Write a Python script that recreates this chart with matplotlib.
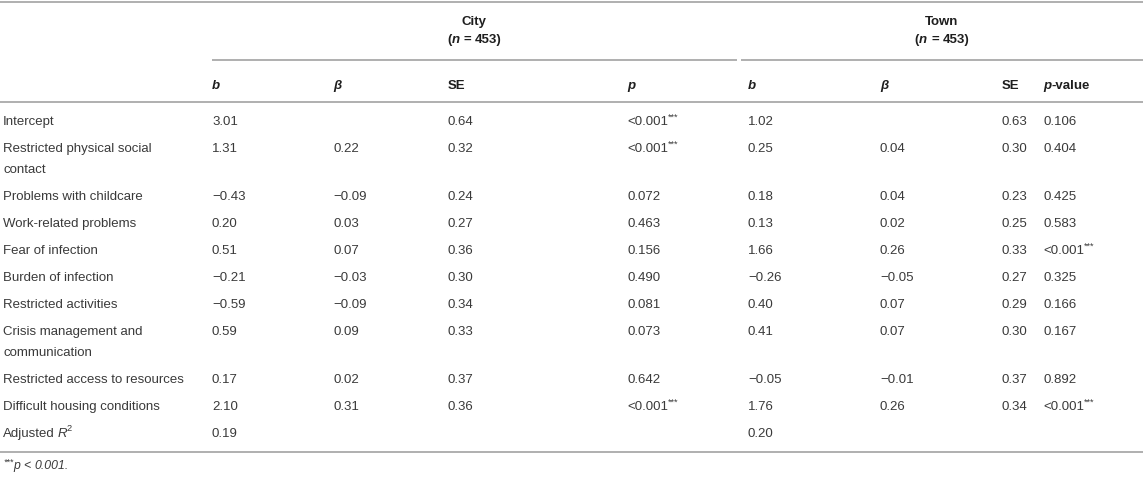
import matplotlib
matplotlib.use("Agg")
import matplotlib.pyplot as plt

# ---------------- data ----------------
row_labels = [
    "Intercept",
    "Restricted physical social contact",
    "Problems with childcare",
    "Work-related problems",
    "Fear of infection",
    "Burden of infection",
    "Restricted activities",
    "Crisis management and communication",
    "Restricted access to resources",
    "Difficult housing conditions",
]
r2_label = "Adjusted"
group_labels = ["City", "Town"]
group_n = [453, 453]

city_b = [3.01, 1.31, -0.43, 0.20, 0.51, -0.21, -0.59, 0.59, 0.17, 2.10]
city_beta = [None, 0.22, -0.09, 0.03, 0.07, -0.03, -0.09, 0.09, 0.02, 0.31]
city_se = [0.64, 0.32, 0.24, 0.27, 0.36, 0.30, 0.34, 0.33, 0.37, 0.36]
city_p = ["<0.001", "<0.001", "0.072", "0.463", "0.156", "0.490", "0.081", "0.073", "0.642", "<0.001"]
city_r2 = 0.19

town_b = [1.02, 0.25, 0.18, 0.13, 1.66, -0.26, 0.40, 0.41, -0.05, 1.76]
town_beta = [None, 0.04, 0.04, 0.02, 0.26, -0.05, 0.07, 0.07, -0.01, 0.26]
town_se = [0.63, 0.30, 0.23, 0.25, 0.33, 0.27, 0.29, 0.30, 0.37, 0.34]
town_p = ["0.106", "0.404", "0.425", "0.583", "<0.001", "0.325", "0.166", "0.167", "0.892", "<0.001"]
town_r2 = 0.20

footnote_p = "0.001"

# ---------------- style / layout ----------------
FONT = "Liberation Sans"
plt.rcParams["font.family"] = [FONT, "DejaVu Sans"]
W, H, DPI = 1143, 480, 100
FS = 9.5
TXT = "#3a3a3a"
HDR = "#1e1e1e"
LINE = "#a9a9a9"

fig = plt.figure(figsize=(W / DPI, H / DPI), dpi=DPI)
ax = fig.add_axes([0, 0, 1, 1])
ax.set_xlim(0, W)
ax.set_ylim(H, 0)
ax.axis("off")
renderer = fig.canvas.get_renderer()


def fmt(v):
    if v is None:
        return ""
    s = f"{v:.2f}"
    return s.replace("-", "\u2212")


def runs(x, yc, parts, color=TXT, ha="left", size=FS):
    """parts: list of (text, weight, style, superscript) or ('GAP', em_fraction)"""
    em = size * DPI / 72.0
    base = yc + 0.36 * em
    objs = []
    widths = []
    for p in parts:
        if p[0] == "GAP":
            objs.append(None)
            widths.append(p[1] * em)
            continue
        txt, w, st, sup = p
        fs = size * (0.7 if sup else 1.0)
        yy = base - (0.4 * em if sup else 0)
        t = ax.text(0, yy, txt, fontsize=fs, fontweight=w, fontstyle=st,
                    color=color, va="baseline", ha="left", family=[FONT, "DejaVu Sans"])
        objs.append(t)
        widths.append(t.get_window_extent(renderer).width)
    total = sum(widths)
    cx = x if ha == "left" else x - total / 2.0
    for o, wd in zip(objs, widths):
        if o is not None:
            o.set_x(cx)
        cx += wd


def wrap(label, maxw):
    words = label.split()
    lines = [words[0]]
    for w in words[1:]:
        trial = lines[-1] + " " + w
        t = ax.text(0, 0, trial, fontsize=FS)
        wd = t.get_window_extent(renderer).width
        t.remove()
        if wd <= maxw:
            lines[-1] = trial
        else:
            lines.append(w)
    return lines


def pcell(x, y, s):
    if s is None:
        return
    if s.startswith("<"):
        runs(x, y, [(s, "normal", "normal", False), ("***", "normal", "normal", True)])
    else:
        runs(x, y, [(s, "normal", "normal", False)])


X_LABEL = 3
city_x = [212, 333, 448, 627]
town_x = [748, 880, 1002, 1043]
group_span = [(212, 737), (741, W)]
LABEL_W = 186

# horizontal rules
kw = dict(color=LINE, lw=1.3, solid_capstyle="butt")
ax.plot([0, W], [2, 2], **kw)
for a, b in group_span:
    ax.plot([a, b], [60, 60], **kw)
ax.plot([0, W], [102, 102], **kw)
ax.plot([0, W], [452, 452], **kw)

# group headers
for name, n, (a, b) in zip(group_labels, group_n, group_span):
    cx = (a + b) / 2.0
    runs(cx, 20, [(name, "bold", "normal", False)], color=HDR, ha="center")
    runs(cx, 38, [("(", "bold", "normal", False), ("n", "bold", "italic", False),
                  ("GAP", 0.3), ("=", "bold", "normal", False), ("GAP", 0.3),
                  (f"{n})", "bold", "normal", False)], color=HDR, ha="center")

# column headers
YH = 84
for xs, last in ((city_x, "p"), (town_x, "p-value")):
    runs(xs[0], YH, [("b", "bold", "italic", False)], color=HDR)
    runs(xs[1], YH, [("\u03b2", "bold", "italic", False)], color=HDR)
    runs(xs[2], YH, [("SE", "bold", "normal", False)], color=HDR)
    if last == "p":
        runs(xs[3], YH, [("p", "bold", "italic", False)], color=HDR)
    else:
        runs(xs[3], YH, [("p", "bold", "italic", False), ("-value", "bold", "normal", False)], color=HDR)

# body rows
LINE_H = 21.0
PAD = 6.0
y = 120.0
for i, lab in enumerate(row_labels):
    lines = wrap(lab, LABEL_W)
    for k, ln in enumerate(lines):
        runs(X_LABEL, y + k * LINE_H, [(ln, "normal", "normal", False)])
    runs(city_x[0], y, [(fmt(city_b[i]), "normal", "normal", False)])
    runs(city_x[1], y, [(fmt(city_beta[i]), "normal", "normal", False)])
    runs(city_x[2], y, [(fmt(city_se[i]), "normal", "normal", False)])
    pcell(city_x[3], y, city_p[i])
    runs(town_x[0], y, [(fmt(town_b[i]), "normal", "normal", False)])
    runs(town_x[1], y, [(fmt(town_beta[i]), "normal", "normal", False)])
    runs(town_x[2], y, [(fmt(town_se[i]), "normal", "normal", False)])
    pcell(town_x[3], y, town_p[i])
    y += LINE_H * len(lines) + PAD

# adjusted R^2 row
runs(X_LABEL, y, [(r2_label, "normal", "normal", False), ("GAP", 0.2),
                  ("R", "normal", "italic", False), ("2", "normal", "normal", True)])
runs(city_x[0], y, [(fmt(city_r2), "normal", "normal", False)])
runs(town_x[0], y, [(fmt(town_r2), "normal", "normal", False)])

# footnote
runs(X_LABEL, 465, [("***", "normal", "italic", True), ("p", "normal", "italic", False),
                    ("GAP", 0.28), ("<", "normal", "italic", False), ("GAP", 0.28),
                    (footnote_p + ".", "normal", "italic", False)], size=FS * 0.93)

fig.savefig("out.png", dpi=DPI)
